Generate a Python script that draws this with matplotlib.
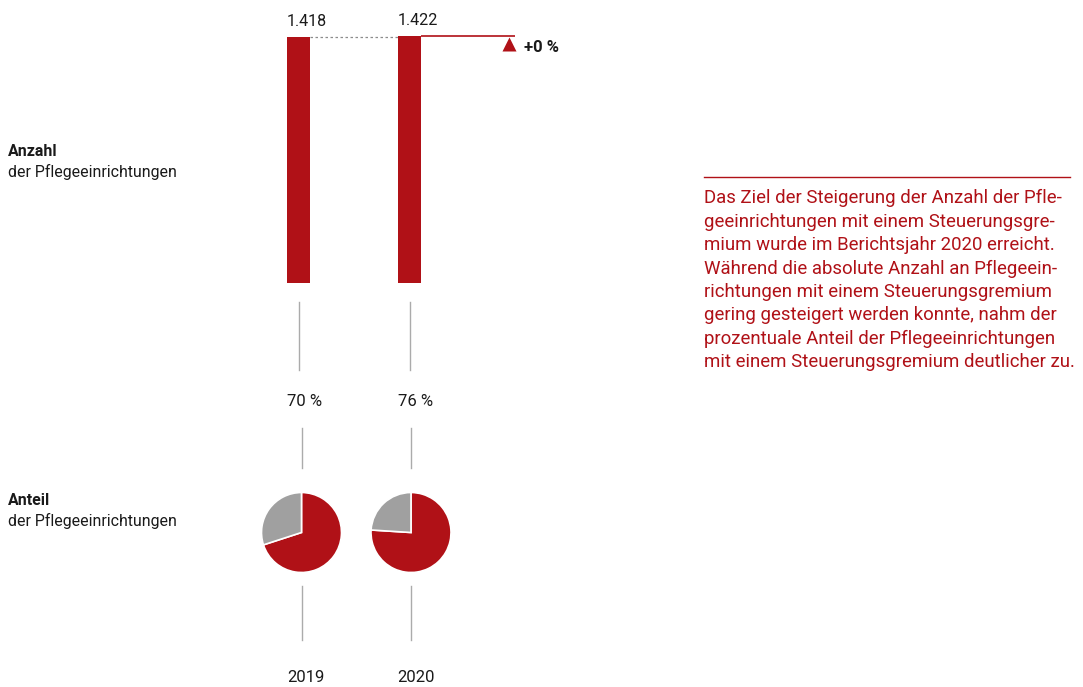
import matplotlib
matplotlib.use('Agg')
import matplotlib.pyplot as plt
from matplotlib import transforms

# ---------------- data ----------------
years = ['2019', '2020']
anzahl = [1418, 1422]
anzahl_labels = ['1.418', '1.422']
anteil = [70, 76]
anteil_labels = ['70 %', '76 %']
change_label = '+0 %'
row_titles = ['Anzahl', 'Anteil']
row_sub = 'der Pflegeeinrichtungen'
note_lines = [
    'Das Ziel der Steigerung der Anzahl der Pfle-',
    'geeinrichtungen mit einem Steuerungsgre-',
    'mium wurde im Berichtsjahr 2020 erreicht.',
    'Während die absolute Anzahl an Pflegeein-',
    'richtungen mit einem Steuerungsgremium',
    'gering gesteigert werden konnte, nahm der',
    'prozentuale Anteil der Pflegeeinrichtungen',
    'mit einem Steuerungsgremium deutlicher zu.',
]

# ---------------- style ----------------
RED = '#B01117'
GRAY = '#A0A0A0'
LINE = '#ABABAB'
TXT = '#1A1A1A'
plt.rcParams['font.family'] = ['Roboto', 'DejaVu Sans']

W, H = 1083, 687
fig = plt.figure(figsize=(W / 100, H / 100), dpi=100)


def fx(px):
    return px / W


def fy(py):
    return 1 - py / H


# overlay for layout text / rules (pixel coordinates)
ov = fig.add_axes([0, 0, 1, 1])
ov.set_xlim(0, W)
ov.set_ylim(H, 0)
ov.axis('off')

# ---------------- bars ----------------
axb = fig.add_axes([fx(243), fy(283), 222 / W, 247 / H])
xs = list(range(len(years)))
bw = 0.207
axb.bar(xs, anzahl, width=bw, color=RED)
axb.set_xlim(-0.5, 1.5)
axb.set_ylim(0, max(anzahl))
axb.axis('off')

for i, (v, lab) in enumerate(zip(anzahl, anzahl_labels)):
    axb.annotate(lab, (i - bw / 2, v), xytext=(0, 11), textcoords='offset pixels',
                 ha='left', va='baseline', fontsize=11.6, color=TXT)

# dotted connector between bar tops
axb.plot([xs[0] + bw / 2, xs[1] - bw / 2], [anzahl[0], anzahl[0]], color='#8C8C8C',
         lw=0.9, ls=(0, (2, 2)), clip_on=False)
# red reference line from second bar
axb.plot([xs[1] + bw / 2, xs[1] + bw / 2 + 0.847], [anzahl[1], anzahl[1]], color=RED,
         lw=1.2, clip_on=False, solid_capstyle='butt')
tri_tr = transforms.offset_copy(axb.transData, fig=fig, x=0, y=-8, units='dots')
axb.plot([xs[1] + bw / 2 + 0.789], [anzahl[1]], marker='^', ms=9.5, color=RED,
         transform=tri_tr, clip_on=False, mec='none')
lab_tr = transforms.offset_copy(axb.transData, fig=fig, x=0, y=-16, units='dots')
axb.text(xs[1] + bw / 2 + 0.93, anzahl[1], change_label, transform=lab_tr,
         ha='left', va='baseline', fontsize=12, fontweight='bold', color=TXT)

# ---------------- pies ----------------
pie_cx = [301.5, 411]
pie_cy = 532.5
R = 40
for i, v in enumerate(anteil):
    axp = fig.add_axes([fx(pie_cx[i] - R), fy(pie_cy + R), 2 * R / W, 2 * R / H])
    axp.pie([v, 100 - v], colors=[RED, GRAY], startangle=90, counterclock=False,
            wedgeprops=dict(edgecolor='white', linewidth=1.2))
    axp.set_xlim(-1.0, 1.0)
    axp.set_ylim(-1.0, 1.0)
    axp.axis('off')

# ---------------- connector lines ----------------
bar_cx = [298.5, 409.5]
for i in range(2):
    ov.plot([bar_cx[i] + 0.5, bar_cx[i] + 0.5], [302, 370], color=LINE, lw=1)
    ov.plot([pie_cx[i], pie_cx[i]], [428, 468], color=LINE, lw=1)
    ov.plot([pie_cx[i], pie_cx[i]], [586, 640], color=LINE, lw=1)

bar_left = [287, 398]
for i in range(2):
    ov.text(bar_left[i], 405.7, anteil_labels[i], ha='left', va='baseline',
            fontsize=12, color=TXT)
    ov.text(bar_left[i] - (0 if i == 0 else 1), 682.3, years[i], ha='left',
            va='baseline', fontsize=12, color=TXT)

# ---------------- row titles ----------------
for title, yb in zip(row_titles, [156, 505]):
    ov.text(8, yb, title, ha='left', va='baseline', fontsize=11.4,
            fontweight='bold', color=TXT)
    ov.text(8, yb + 20.7, row_sub, ha='left', va='baseline', fontsize=11.4,
            color=TXT)

# ---------------- note ----------------
ov.plot([704, 1070], [177, 177], color=RED, lw=1)
for k, line in enumerate(note_lines):
    ov.text(704, 203.3 + k * 23.4, line, ha='left', va='baseline', fontsize=13.4,
            color=RED)

fig.savefig('out.png', dpi=100)
